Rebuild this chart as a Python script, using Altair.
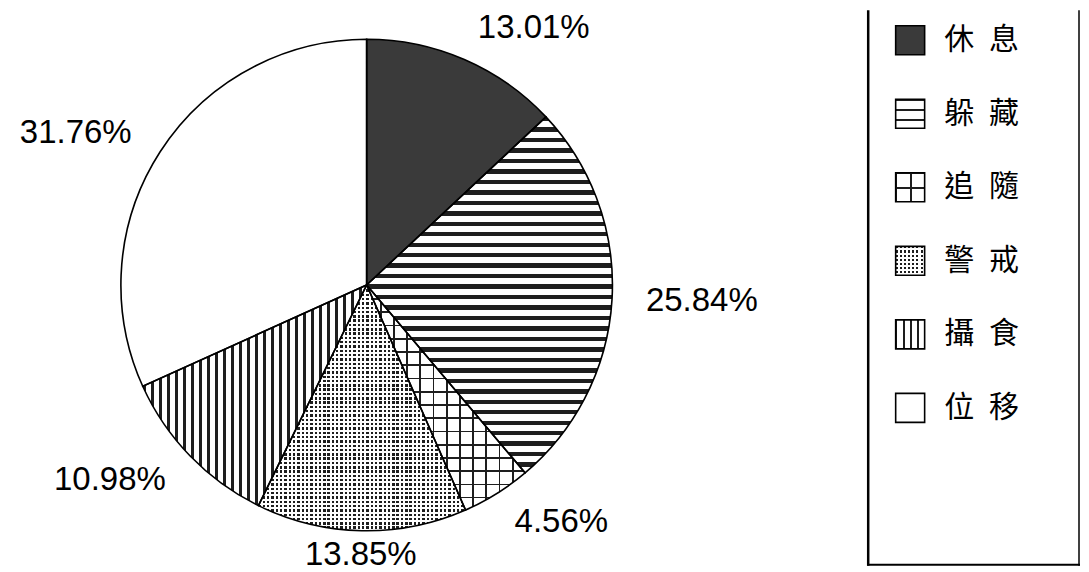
import math
import altair as alt
import pandas as pd

# ---- data ----
categories = ["休息", "躲藏", "追隨", "警戒", "攝食", "位移"]
percents = [13.01, 25.84, 4.56, 13.85, 10.98, 31.76]
legend_labels = ["\u2002".join(c) for c in categories]

df = pd.DataFrame({
    "cat": categories,
    "pct": percents,
    "order": list(range(len(categories))),
    "legend": legend_labels,
})

INK = "#1e1e1e"
CLEAR = "rgba(255,255,255,0)"


def stripes(n, frac, ink, paper, across_x):
    stops = []
    for i in range(n):
        a = round(i / n, 5)
        b = round((i + frac) / n, 5)
        c = round((i + 1) / n, 5)
        stops += [
            alt.GradientStop(offset=a, color=ink),
            alt.GradientStop(offset=b, color=ink),
            alt.GradientStop(offset=b, color=paper),
            alt.GradientStop(offset=c, color=paper),
        ]
    return alt.LinearGradient(
        gradient="linear", stops=stops,
        x1=0, y1=0, x2=1 if across_x else 0, y2=0 if across_x else 1,
    )


pie_fills = {
    "休息": ["#3a3a3a"],
    "躲藏": [stripes(34, 0.42, INK, "white", False)],
    "追隨": [stripes(17, 0.13, INK, "white", False), stripes(12, 0.13, INK, CLEAR, True)],
    "警戒": [INK, stripes(57, 0.56, CLEAR, "white", False), stripes(48, 0.56, CLEAR, "white", True)],
    "攝食": [stripes(28, 0.4, INK, "white", True)],
    "位移": ["white"],
}

legend_fills = {
    "休息": ["#3a3a3a"],
    "躲藏": [stripes(3, 0.2, INK, "white", False)],
    "追隨": [stripes(2, 0.1, INK, "white", False), stripes(2, 0.1, INK, CLEAR, True)],
    "警戒": [INK, stripes(7, 0.5, CLEAR, "white", False), stripes(7, 0.5, CLEAR, "white", True)],
    "攝食": [stripes(4, 0.25, INK, "white", True)],
    "位移": ["white"],
}

R = 246
theta_scale = alt.Scale(domain=[0, 100], range=[0, 2 * math.pi])

base = (
    alt.Chart(df)
    .transform_window(end="sum(pct)", sort=[alt.SortField("order")], frame=[None, 0])
    .transform_calculate(
        start="datum.end - datum.pct",
        mid="datum.end - datum.pct / 2",
        label="format(datum.pct, '.2f') + '%'",
    )
)

arc_enc = dict(
    theta=alt.Theta("start:Q", scale=theta_scale, stack=False),
    theta2="end:Q",
)

pie_layers = []
for cat in categories:
    for f in pie_fills[cat]:
        pie_layers.append(
            base.transform_filter(alt.datum.cat == cat)
            .mark_arc(radius=R, fill=f, strokeWidth=0)
            .encode(**arc_enc)
        )

pie_layers.append(
    base.mark_arc(radius=R, fillOpacity=0, stroke="black", strokeWidth=1.6).encode(**arc_enc)
)

label_groups = [
    (["休息", "躲藏", "追隨"], "left", "middle"),
    (["攝食", "位移"], "right", "middle"),
    (["警戒"], "center", "alphabetic"),
]
for cats, align, baseline in label_groups:
    pie_layers.append(
        base.transform_filter(alt.FieldOneOfPredicate(field="cat", oneOf=cats))
        .mark_text(radius=280, align=align, baseline=baseline,
                   font="Liberation Sans", fontSize=33, color="black")
        .encode(theta=alt.Theta("mid:Q", scale=theta_scale, stack=False), text="label:N")
    )

pie = alt.layer(*pie_layers).properties(width=718, height=550)

# ---- legend panel ----
LW, LH = 213, 556
leg = alt.Chart(df)
yenc = alt.Y("cat:N", scale=alt.Scale(domain=categories, range=[30, 398], padding=0), axis=None)

leg_layers = []
for cat in categories:
    for f in legend_fills[cat]:
        leg_layers.append(
            leg.transform_filter(alt.datum.cat == cat)
            .mark_square(size=841, fill=f, strokeWidth=0, opacity=1)
            .encode(x=alt.value(43), y=yenc)
        )
leg_layers.append(
    leg.mark_square(size=841, fillOpacity=0, stroke="black", strokeWidth=1.6)
    .encode(x=alt.value(43), y=yenc)
)
leg_layers.append(
    leg.mark_text(align="left", baseline="middle", font="Noto Sans CJK TC",
                  fontSize=30, color="black")
    .encode(x=alt.value(77), y=yenc, text="legend:N")
)

frame = alt.Chart(alt.InlineData(values=[{"k": 1}]))
leg_layers += [
    frame.mark_rule(color="black", strokeWidth=2.5)
    .encode(x=alt.value(1), y=alt.value(0), y2=alt.value(LH)),
    frame.mark_rule(color="black", strokeWidth=1.8)
    .encode(x=alt.value(0), x2=alt.value(LW), y=alt.value(LH - 1)),
    frame.mark_rule(color="black", strokeWidth=1.5)
    .encode(x=alt.value(LW - 1), y=alt.value(0), y2=alt.value(LH)),
]

legend = alt.layer(*leg_layers).properties(width=LW, height=LH)

chart = (
    alt.hconcat(pie, legend, spacing=142, bounds="flush")
    .properties(padding=0)
    .configure_view(strokeWidth=0)
)

chart.save("out.html", embed_options={"renderer": "svg", "actions": False})
